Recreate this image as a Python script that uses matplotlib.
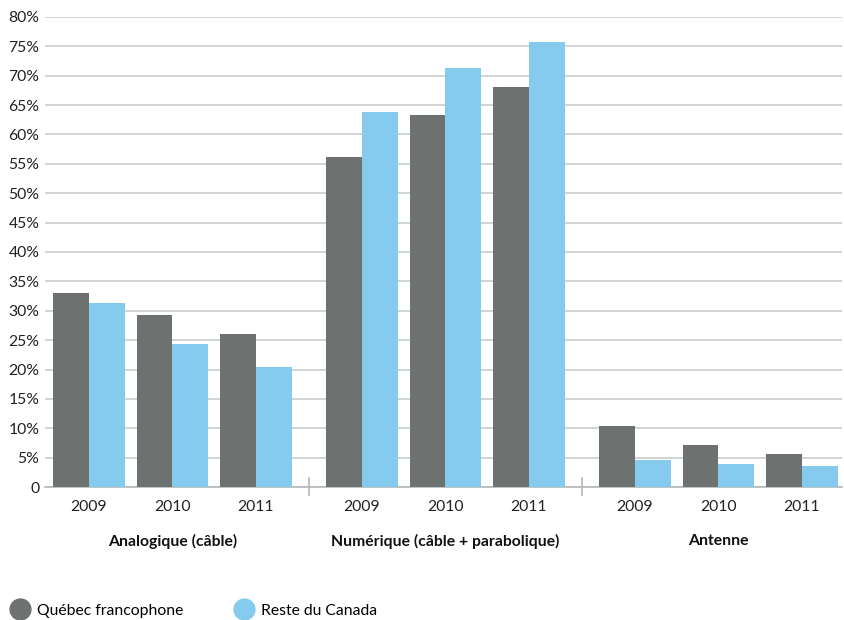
import matplotlib.pyplot as plt
from matplotlib.lines import Line2D
import numpy as np

# data (percent)
groups = ["Analogique (câble)", "Numérique (câble + parabolique)", "Antenne"]
years = ["2009", "2010", "2011"]
quebec = [33.1, 29.2, 26.1, 56.2, 63.4, 68.0, 10.4, 7.2, 5.7]
reste = [31.4, 24.4, 20.5, 63.9, 71.4, 75.8, 4.6, 4.0, 3.6]
series_names = ["Québec francophone", "Reste du Canada"]

gray = "#6d7270"
blue = "#85cbee"
grid_col = "#c9cdcd"

plt.rcParams["font.family"] = ["Lato", "DejaVu Sans"]
fs = 11.3

fig = plt.figure(figsize=(8.44, 6.2), dpi=100)
ax = fig.add_axes([0.0533, 0.2145, 0.9443, 0.7581])

gap = 0.27
x = np.array([g * (3 + gap) + i for g in range(3) for i in range(3)])
w = 0.43

ax.bar(x - w / 2, quebec, w, color=gray, zorder=3)
ax.bar(x + w / 2, reste, w, color=blue, zorder=3)

ax.set_ylim(0, 80)
ax.set_xlim(-0.527, 9.02)
yt = np.arange(0, 81, 5)
ax.set_yticks(yt)
ax.set_yticklabels(["0"] + [f"{v}%" for v in yt[1:]], fontsize=fs, color="#222222")
ax.yaxis.grid(True, color=grid_col, linewidth=1.2, zorder=0)
ax.tick_params(axis="y", length=0, pad=4)

ax.set_xticks(x)
ax.set_xticklabels(years * 3, fontsize=fs, color="#222222")
ax.tick_params(axis="x", length=0, pad=9)

for s in ["top", "right", "left"]:
    ax.spines[s].set_visible(False)
ax.spines["bottom"].set_color("#b5b9b9")
ax.spines["bottom"].set_linewidth(1.2)

# group separators
for g in range(2):
    xs = (x[3 * g + 2] + x[3 * g + 3]) / 2
    ax.plot([xs, xs], [-0.017, 0.019], color="#b5b9b9", lw=1.2,
            transform=ax.get_xaxis_transform(), clip_on=False)

# group labels
for g, name in enumerate(groups):
    ax.text(x[3 * g + 1], -0.115, name, transform=ax.get_xaxis_transform(),
            ha="center", va="center", fontsize=fs, fontweight="bold", color="#111111")

handles = [Line2D([], [], marker="o", ls="", markersize=15, color=c) for c in (gray, blue)]
fig.legend(handles, series_names, loc="lower left", bbox_to_anchor=(0.0, -0.014),
           ncol=2, frameon=False, fontsize=fs, handletextpad=0.45, columnspacing=3.3,
           handlelength=1.2, borderaxespad=0.3)

fig.savefig("out.png", dpi=100)
